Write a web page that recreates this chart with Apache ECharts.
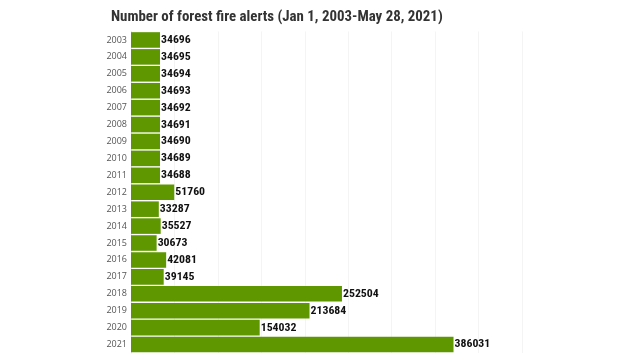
<!DOCTYPE html>
<html><head><meta charset="utf-8">
<script src="https://cdn.jsdelivr.net/npm/echarts@6/dist/echarts.min.js"></script>
<style>html,body{margin:0;padding:0;background:#fff}#c{width:640px;height:362px}</style>
</head><body><div id="c"></div>
<script>
const years = ['2003','2004','2005','2006','2007','2008','2009','2010','2011','2012','2013','2014','2015','2016','2017','2018','2019','2020','2021'];
const alerts = [34696,34695,34694,34693,34692,34691,34690,34689,34688,51760,33287,35527,30673,42081,39145,252504,213684,154032,386031];
const titleText = 'Number of forest fire alerts (Jan 1, 2003-May 28, 2021)';

const chart = echarts.init(document.getElementById('c'), null, {renderer:'canvas'});
chart.setOption({
  animation:false,
  backgroundColor:'#fff',
  title:{text:titleText,left:106,top:5,textStyle:{fontFamily:'"Roboto Condensed", Roboto',fontWeight:'bold',fontSize:14.9,color:'#333'}},
  grid:{left:131,top:31.5,width:391,bottom:9,containLabel:false},
  xAxis:{type:'value',min:0,max:468000,interval:52000,
    axisLabel:{show:false},axisLine:{show:false},axisTick:{show:false},
    splitLine:{show:true,lineStyle:{color:'#f4f4f4',width:1}}},
  yAxis:{type:'category',inverse:true,data:years,
    axisLine:{show:true,lineStyle:{color:'#e6e6e6'}},axisTick:{show:false},
    axisLabel:{fontFamily:'Open Sans',fontSize:9,color:'#555',margin:4}},
  series:[{type:'bar',data:alerts,barCategoryGap:'8%',
    itemStyle:{color:'#5e9700'},
    label:{show:true,position:'right',distance:1,fontFamily:'"Roboto Condensed", Roboto',fontWeight:'bold',fontSize:11.8,color:'#111'}}]
});
</script></body></html>
